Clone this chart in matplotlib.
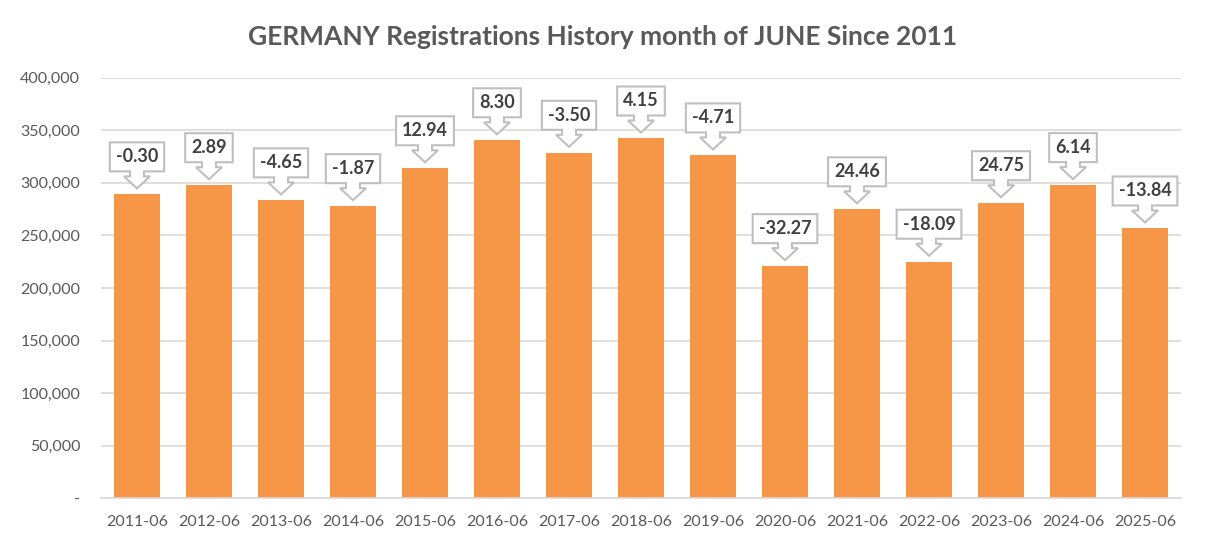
import matplotlib.pyplot as plt
from matplotlib.patches import Polygon
from matplotlib.transforms import IdentityTransform

plt.rcParams["font.family"] = ["Lato", "DejaVu Sans"]

months = ["2011-06", "2012-06", "2013-06", "2014-06", "2015-06", "2016-06", "2017-06", "2018-06",
          "2019-06", "2020-06", "2021-06", "2022-06", "2023-06", "2024-06", "2025-06"]
registrations = [289000, 297700, 283300, 277800, 313800, 340400, 328500, 342100,
                 326000, 220800, 274800, 225000, 280600, 297800, 256600]
yoy_change = ["-0.30", "2.89", "-4.65", "-1.87", "12.94", "8.30", "-3.50", "4.15",
              "-4.71", "-32.27", "24.46", "-18.09", "24.75", "6.14", "-13.84"]
y_ticks = [0, 50000, 100000, 150000, 200000, 250000, 300000, 350000, 400000]

bar_color = "#F79646"
grid_color = "#D9D9D9"
text_gray = "#595959"

fig = plt.figure(figsize=(12.05, 5.47), dpi=100)
ax = fig.add_axes([0.0838, 0.0887, 0.8963, 0.7695])

x = list(range(len(months)))
ax.bar(x, registrations, width=0.64, color=bar_color, zorder=2)

ax.set_xlim(-0.5, len(months) - 0.5)
ax.set_ylim(0, 400000)
ax.set_yticks(y_ticks)
ax.set_yticklabels(["-" if v == 0 else f"{v:,}" for v in y_ticks])
ax.set_xticks(x)
ax.set_xticklabels(months)
ax.tick_params(axis="both", length=0, colors=text_gray, labelsize=11.5)
ax.tick_params(axis="y", pad=15)
ax.tick_params(axis="x", pad=12)
ax.yaxis.grid(True, color=grid_color, linewidth=1.2, zorder=0)
ax.set_axisbelow(True)
for side in ["left", "right", "top"]:
    ax.spines[side].set_visible(False)
ax.spines["bottom"].set_color(grid_color)
ax.spines["bottom"].set_linewidth(1.2)

fig.text(0.5, 0.932, "GERMANY Registrations History month of JUNE Since 2011",
         ha="center", va="center", fontsize=19, fontweight="bold", color=text_gray)

# callout labels (box with a down arrow) drawn in pixel space
fig.canvas.draw()
renderer = fig.canvas.get_renderer()
for xi, val, lab in zip(x, registrations, yoy_change):
    tx, ty = ax.transData.transform((xi, val))
    ty += 6
    box_h = 29
    t = ax.text(tx, ty + 17 + box_h / 2, lab, transform=IdentityTransform(),
                ha="center", va="center", fontsize=13, fontweight="bold",
                color="#404040", zorder=5)
    tw = t.get_window_extent(renderer).width
    hw = tw / 2 + 6
    pts = [(0, 0), (13, 12), (7, 12), (7, 17), (hw, 17), (hw, 17 + box_h),
           (-hw, 17 + box_h), (-hw, 17), (-7, 17), (-7, 12), (-13, 12)]
    pts = [(tx + px, ty + py) for px, py in pts]
    ax.add_patch(Polygon(pts, closed=True, transform=IdentityTransform(),
                         facecolor="white", edgecolor="#BFBFBF", linewidth=1.5,
                         zorder=4, clip_on=False))

fig.savefig("out.png", dpi=100)
